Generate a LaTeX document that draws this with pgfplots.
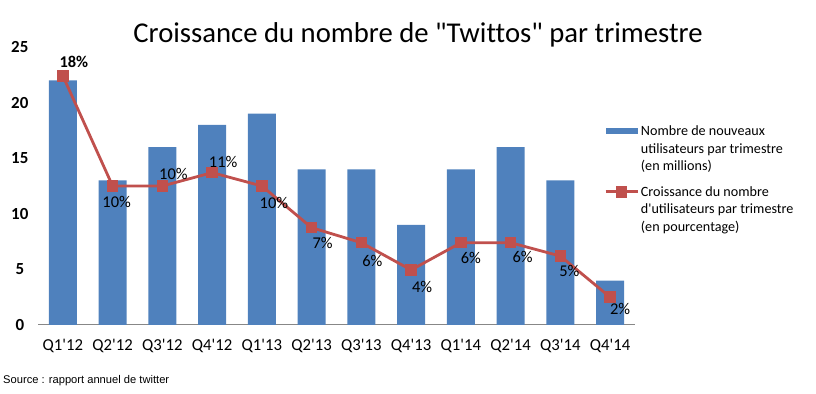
\documentclass[border=0pt]{standalone}
\usepackage{fontspec}
\setmainfont{Carlito}
\newfontfamily\titlefont{Carlito}[Ligatures={TeXOff,CommonOff}]
\newfontfamily\arialfont{Liberation Sans}
\usepackage{pgfplots}
\pgfplotsset{compat=1.18}
\definecolor{barblue}{HTML}{4F81BD}
\definecolor{linered}{HTML}{C0504D}
\definecolor{axisgray}{HTML}{878787}
\begin{document}
\begin{tikzpicture}
\useasboundingbox (0,0) rectangle (816bp,394bp);
\begin{axis}[
  at={(38bp,69bp)}, anchor=south west,
  scale only axis, width=597bp, height=278bp,
  xmin=-0.5, xmax=11.5, ymin=0, ymax=25,
  axis x line*=bottom, axis y line*=left,
  x axis line style={axisgray, line width=1bp},
  y axis line style={draw=none},
  major tick length=0pt,
  xtick={0,...,11},
  xticklabels={Q1\textquotesingle12,Q2\textquotesingle12,Q3\textquotesingle12,Q4\textquotesingle12,Q1\textquotesingle13,Q2\textquotesingle13,Q3\textquotesingle13,Q4\textquotesingle13,Q1\textquotesingle14,Q2\textquotesingle14,Q3\textquotesingle14,Q4\textquotesingle14},
  ytick={0,5,10,15,20,25},
  /pgf/number format/assume math mode=true,
  xticklabel style={font=\fontsize{16.8}{20}\selectfont, yshift=-11bp},
  yticklabel style={font=\bfseries\fontsize{17}{20}\selectfont, inner sep=0pt, text width=22bp, align=center, anchor=east, xshift=-7bp},
  legend style={draw=none, fill=none, at={(0.948,0.725)}, anchor=north west, inner sep=0pt,
    font=\fontsize{14.2}{17.7}\selectfont, row sep=10bp,
    cells={align=left, anchor=west}},
  legend cell align=left,
]
\addplot[ybar, bar width=28bp, fill=barblue, draw=none,
  legend image code/.code={\fill[barblue] (0bp,14.7bp) rectangle (32bp,20.7bp);}]
  coordinates {(0,22) (1,13) (2,16) (3,18) (4,19) (5,14) (6,14) (7,9) (8,14) (9,16) (10,13) (11,4)};
\addlegendentry{Nombre de nouveaux\\utilisateurs par trimestre\\(en millions)}
\addplot[linered, line width=2.8bp, mark=square*, mark size=5.2bp, mark options={fill=linered, line width=0pt},
  legend image code/.code={\draw[linered, line width=2.8bp, mark=square*, mark size=5.2bp, mark options={fill=linered, line width=0pt}, mark repeat=2, mark phase=2] plot coordinates {(0bp,17.7bp) (16bp,17.7bp) (32bp,17.7bp)};}]
  coordinates {(0,22.4) (1,12.5) (2,12.5) (3,13.7) (4,12.5) (5,8.75) (6,7.4) (7,4.95) (8,7.4) (9,7.4) (10,6.2) (11,2.5)};
\addlegendentry{Croissance du nombre\\d\textquotesingle utilisateurs par trimestre\\(en pourcentage)}
\begin{scope}[every node/.style={font=\fontsize{16.5}{20}\selectfont, inner sep=0pt}]
\node[xshift=11bp, yshift=14bp] at (axis cs:0,22.4) {\textbf{18\%}};
\node[xshift=4bp, yshift=-16bp] at (axis cs:1,12.5) {10\%};
\node[xshift=11bp, yshift=12bp] at (axis cs:2,12.5) {10\%};
\node[xshift=11bp, yshift=11bp] at (axis cs:3,13.7) {11\%};
\node[xshift=12bp, yshift=-17bp] at (axis cs:4,12.5) {10\%};
\node[xshift=11bp, yshift=-15bp] at (axis cs:5,8.75) {7\%};
\node[xshift=11bp, yshift=-18bp] at (axis cs:6,7.4) {6\%};
\node[xshift=11bp, yshift=-17bp] at (axis cs:7,4.95) {4\%};
\node[xshift=10bp, yshift=-15bp] at (axis cs:8,7.4) {6\%};
\node[xshift=12bp, yshift=-14bp] at (axis cs:9,7.4) {6\%};
\node[xshift=9bp, yshift=-15bp] at (axis cs:10,6.2) {5\%};
\node[xshift=10bp, yshift=-12bp] at (axis cs:11,2.5) {2\%};
\end{scope}
\end{axis}
\node[anchor=base, font=\titlefont\fontsize{28.8}{34}\selectfont, inner sep=0pt] at (418bp,351bp) {Croissance du nombre de "Twittos" par trimestre};
\node[anchor=west, font=\arialfont\fontsize{11.2}{13}\selectfont, inner sep=0pt] at (3bp,13bp) {Source : rapport annuel de twitter};
\end{tikzpicture}
\end{document}
